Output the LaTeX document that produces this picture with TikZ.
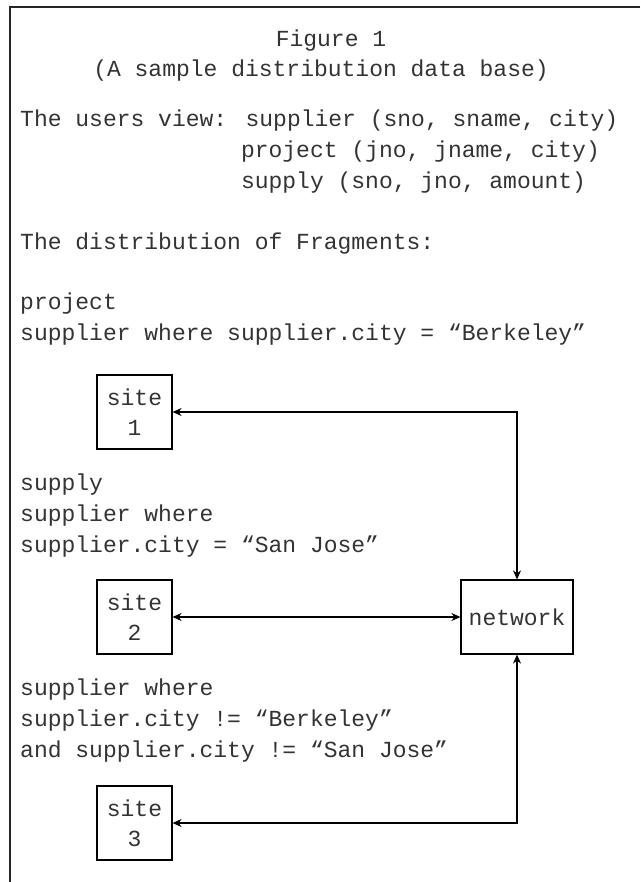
\documentclass[tikz,border=0pt]{standalone}
\usepackage{fontspec}
\setmainfont{Liberation Mono}
\usetikzlibrary{arrows.meta}
\begin{document}
\begin{tikzpicture}[x=1pt, y=-1pt, font=\fontsize{23}{30}\selectfont, text=black!80,
		txt/.style={anchor=base west, inner sep=0pt},
		sitebox/.style={draw, line width=1.2pt, minimum width=75pt, minimum height=74pt, align=center, inner sep=0pt},
		link/.style={{Stealth[length=9pt, width=8pt]}-{Stealth[length=9pt, width=8pt]}, line width=1.2pt}]
		\useasboundingbox (0,0) rectangle (640,882);
		\draw[line width=1.5pt, black!85] (640,7) -- (10,7) -- (10,882);
		% heading
		\node[anchor=base, inner sep=0pt] (title) at (331,47) {Figure 1};
		\node[anchor=base, inner sep=0pt] (subtitle) at (321,77) {(A sample distribution data base)};
		% users view
		\node[txt] (view) at (20,127) {The users view: supplier (sno, sname, city)};
		\node[txt] (project) at (240.8,158) {project (jno, jname, city)};
		\node[txt] (supply) at (240.8,189) {supply (sno, jno, amount)};
		\node[txt] (distr) at (20,250) {The distribution of Fragments:};
		% fragments
		\node[txt] (frag1a) at (20,309) {project};
		\node[txt] (frag1b) at (20,340) {supplier where supplier.city = “Berkeley”};
		\node[txt] (frag2a) at (20,490) {supply};
		\node[txt] (frag2b) at (20,521) {supplier where};
		\node[txt] (frag2c) at (20,552) {supplier.city = “San Jose”};
		\node[txt] (frag3a) at (20,695) {supplier where};
		\node[txt] (frag3b) at (20,726) {supplier.city != “Berkeley”};
		\node[txt] (frag3c) at (20,757) {and supplier.city != “San Jose”};
		% sites and network
		\node[sitebox] (site1) at (134.5,412) {site\\1};
		\node[sitebox] (site2) at (134.5,617) {site\\2};
		\node[sitebox] (site3) at (134.5,823) {site\\3};
		\node[sitebox, minimum width=112pt] (net) at (517,617) {network};
		\draw[link] (site1.east) -| (net.north);
		\draw[link] (site2.east) -- (net.west);
		\draw[link] (site3.east) -| (net.south);
	\end{tikzpicture}
\end{document}
